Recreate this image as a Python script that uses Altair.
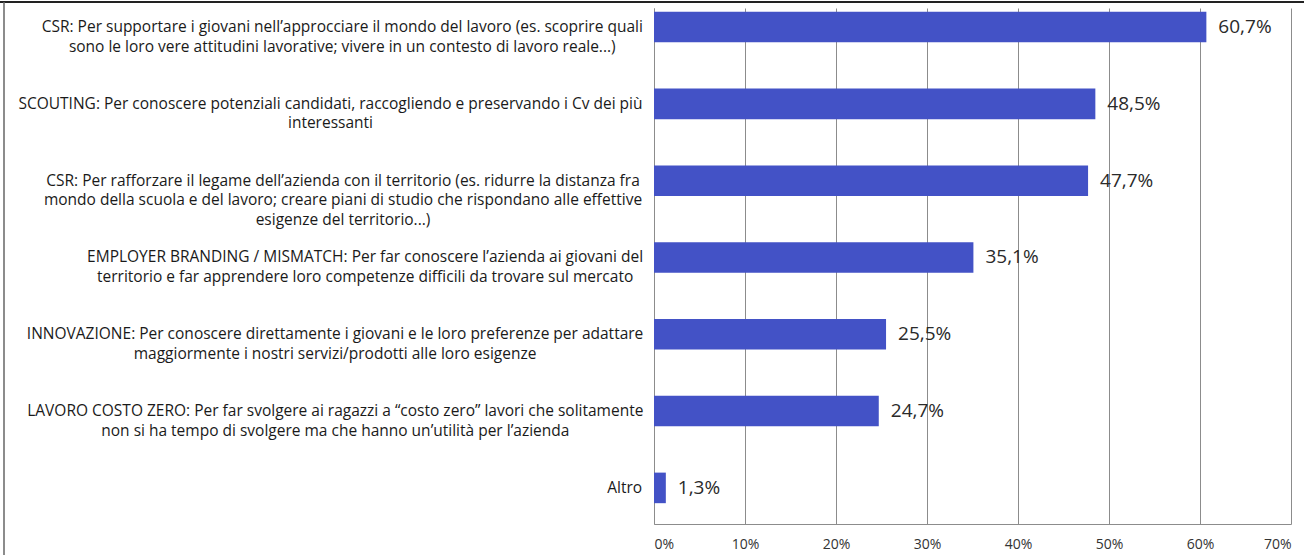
import glob
import altair as alt
import pandas as pd

# ---- data ----
keys = ["c1", "c2", "c3", "c4", "c5", "c6", "c7"]
labels = [
    "CSR: Per supportare i giovani nell’approcciare il mondo del lavoro (es. scoprire quali\nsono le loro vere attitudini lavorative; vivere in un contesto di lavoro reale...)",
    "SCOUTING: Per conoscere potenziali candidati, raccogliendo e preservando i Cv dei più\ninteressanti",
    "CSR: Per rafforzare il legame dell’azienda con il territorio (es. ridurre la distanza fra\nmondo della scuola e del lavoro; creare piani di studio che rispondano alle effettive\nesigenze del territorio...)",
    "EMPLOYER BRANDING / MISMATCH: Per far conoscere l’azienda ai giovani del\nterritorio e far apprendere loro competenze difficili da trovare sul mercato",
    "INNOVAZIONE: Per conoscere direttamente i giovani e le loro preferenze per adattare\nmaggiormente i nostri servizi/prodotti alle loro esigenze",
    "LAVORO COSTO ZERO: Per far svolgere ai ragazzi a “costo zero” lavori che solitamente\nnon si ha tempo di svolgere ma che hanno un’utilità per l’azienda",
    "Altro",
]
values = [60.7, 48.5, 47.7, 35.1, 25.5, 24.7, 1.3]
x_ticks = [0, 10, 20, 30, 40, 50, 60, 70]

# ---- layout / style ----
FONT = "Open Sans"
FONT_FILE = "OpenSans-Regular.ttf"
LABEL_SIZE = 15.5
LINE_HEIGHT = 19.5
PLOT_LEFT = 654
LABEL_GAP = 12
BLUE = "#4352C6"
GRID = "#8c8c8c"


def text_width(s, size):
    try:
        from PIL import ImageFont
        paths = glob.glob("/usr/share/fonts/**/" + FONT_FILE, recursive=True)
        f = ImageFont.truetype(paths[0], size)
        return f.getlength(s)
    except Exception:
        w = 0.0
        for ch in s:
            if ch in "iljI.,;:'’|!":
                w += 0.26
            elif ch in "tfr()/ ":
                w += 0.34
            elif ch in "mwMW":
                w += 0.85
            elif ch.isupper():
                w += 0.66
            elif ch.isdigit():
                w += 0.57
            else:
                w += 0.55
        return w * size


# centre of each (centred, multi-line) label block, right edge near the axis
centres = []
for lab in labels:
    maxw = max(text_width(line, LABEL_SIZE) for line in lab.split("\n"))
    centres.append(-LABEL_GAP - maxw / 2)

df = pd.DataFrame({"k": keys, "label": labels, "v": values, "cx": centres})

yenc = alt.Y(
    "k:N",
    sort=keys,
    scale=alt.Scale(paddingInner=0.602, paddingOuter=0.16, align=0.153),
    axis=alt.Axis(labels=False, ticks=False, title=None, grid=False,
                  domainColor=GRID, domainWidth=1),
)

xscale = alt.Scale(domain=[0, 70], nice=False, zero=True)

base = alt.Chart(df)

bars = base.mark_bar(color=BLUE).encode(
    x=alt.X(
        "v:Q",
        scale=xscale,
        axis=alt.Axis(
            values=x_ticks,
            labelExpr="datum.value + '%'",
            grid=True,
            gridColor=GRID,
            gridWidth=1,
            ticks=False,
            domainColor=GRID,
            labelFont=FONT,
            labelFontSize=14,
            labelColor="#333333",
            labelPadding=13,
            title=None,
        ),
    ),
    y=yenc,
)

value_text = base.transform_calculate(
    txt="replace(format(datum.v, '.1f'), '.', ',') + '%'"
).mark_text(
    align="left", baseline="middle", dx=12, font=FONT, fontSize=19, color="#2a2a2a"
).encode(x=alt.X("v:Q", scale=xscale), y=yenc, text="txt:N")

cat_text = base.mark_text(
    align="center",
    baseline="middle",
    lineBreak="\n",
    lineHeight=LINE_HEIGHT,
    font=FONT,
    fontSize=LABEL_SIZE,
    color="#1a1a1a",
).encode(x=alt.X("cx:Q", scale=None), y=yenc, text="label:N")

# scanned page frame (top and left edges)
frame_top = alt.Chart(pd.DataFrame({"a": [0]})).mark_rule(
    color="#222222", strokeWidth=2
).encode(x=alt.value(-PLOT_LEFT), x2=alt.value(660), y=alt.value(-6))
frame_left = alt.Chart(pd.DataFrame({"a": [0]})).mark_rule(
    color="#666666", strokeWidth=1.5
).encode(x=alt.value(-650), y=alt.value(-6), y2=alt.value(560))

chart = (
    alt.layer(bars, value_text, cat_text, frame_top, frame_left)
    .properties(
        width=637,
        height=516,
        padding={"left": PLOT_LEFT, "top": 8, "right": 13, "bottom": 31},
        autosize=alt.AutoSizeParams(type="none"),
        background="white",
    )
    .configure_view(strokeWidth=0)
)

chart.save("out.html", embed_options={"renderer": "svg", "actions": False})
